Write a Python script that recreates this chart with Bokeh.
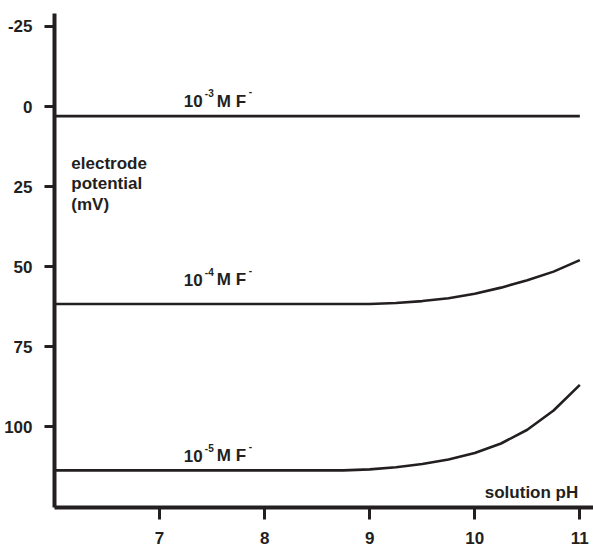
from bokeh.plotting import figure
from bokeh.models import Range1d, FixedTicker
from bokeh.core.properties import value
from bokeh.embed import file_html
from bokeh.resources import INLINE

# ---- data ----
ph_1e3 = [6.0, 11.0]
mv_1e3 = [3.0, 3.0]

ph_1e4 = [6.0, 9.0, 9.25, 9.5, 9.75, 10.0, 10.25, 10.5, 10.75, 11.0]
mv_1e4 = [61.7, 61.7, 61.4, 60.8, 59.9, 58.5, 56.6, 54.3, 51.6, 48.0]

ph_1e5 = [6.0, 8.75, 9.0, 9.25, 9.5, 9.75, 10.0, 10.25, 10.5, 10.75, 11.0]
mv_1e5 = [113.7, 113.7, 113.4, 112.7, 111.7, 110.3, 108.3, 105.3, 101.0, 95.0, 87.0]

x_ticks = [7, 8, 9, 10, 11]
y_ticks = [-25, 0, 25, 50, 75, 100]
y_tick_labels = ["-25", "0", "25", "50", "75", "100"]
exponents = ["-3", "-4", "-5"]
ylabel_lines = ["electrode", "potential", "(mV)"]
xlabel = "solution pH"

INK = "#231f20"
FONT = "Liberation Sans"
FS = "17px"

p = figure(width=593, height=547, output_backend="svg", toolbar_location=None,
           x_range=Range1d(6.0, 11.13), y_range=Range1d(125.3, -29.06),
           min_border_left=54, min_border_right=0, min_border_top=13,
           min_border_bottom=40, background_fill_color="white",
           border_fill_color="white")
p.outline_line_color = None
p.xgrid.visible = False
p.ygrid.visible = False

for ax in (p.xaxis[0], p.yaxis[0]):
    ax.axis_line_width = 4
    ax.axis_line_color = INK
    ax.major_tick_line_width = 3
    ax.major_tick_line_color = INK
    ax.major_tick_in = 0
    ax.minor_tick_line_color = None
    ax.major_label_text_font = FONT
    ax.major_label_text_font_style = "bold"
    ax.major_label_text_font_size = FS
    ax.major_label_text_color = INK

p.xaxis.ticker = FixedTicker(ticks=x_ticks)
p.yaxis.ticker = FixedTicker(ticks=y_ticks)
p.yaxis.major_label_overrides = {t: s for t, s in zip(y_ticks, y_tick_labels)}
p.xaxis.major_tick_out = 12
p.yaxis.major_tick_out = 10
p.xaxis.major_label_standoff = 12
p.yaxis.major_label_standoff = 12

for xs, ys in ((ph_1e3, mv_1e3), (ph_1e4, mv_1e4), (ph_1e5, mv_1e5)):
    p.line(xs, ys, line_width=2.6, line_color=INK, line_join="round")

# concentration labels
anchor_x = 7.231
anchor_y = [-1.66, 54.06, 109.06]
for ay, ex in zip(anchor_y, exponents):
    p.text([anchor_x], [ay], text=["10"], text_font=value(FONT), text_font_style="bold",
           text_font_size=FS, text_color=INK, text_baseline="alphabetic")
    p.text([anchor_x], [ay], text=[ex], text_font=value(FONT), text_font_style="bold",
           text_font_size="10px", text_color=INK, text_baseline="alphabetic",
           x_offset=21, y_offset=-8)
    p.text([anchor_x], [ay], text=["M F"], text_font=value(FONT), text_font_style="bold",
           text_font_size=FS, text_color=INK, text_baseline="alphabetic",
           x_offset=33)
    p.text([anchor_x], [ay], text=["-"], text_font=value(FONT), text_font_style="bold",
           text_font_size="10px", text_color=INK, text_baseline="alphabetic",
           x_offset=65, y_offset=-10)

# y label (inside plot)
for i, t in enumerate(ylabel_lines):
    p.text([6.16], [17.7], text=[t], text_font=value(FONT), text_font_style="bold",
           text_font_size=FS, text_color=INK, text_baseline="alphabetic",
           y_offset=i * 20.7)

# x label
p.text([10.985], [120.5], text=[xlabel], text_font=value(FONT), text_font_style="bold",
       text_font_size=FS, text_color=INK, text_baseline="alphabetic",
       text_align="right")

open("out.html", "w").write(file_html(p, INLINE))
